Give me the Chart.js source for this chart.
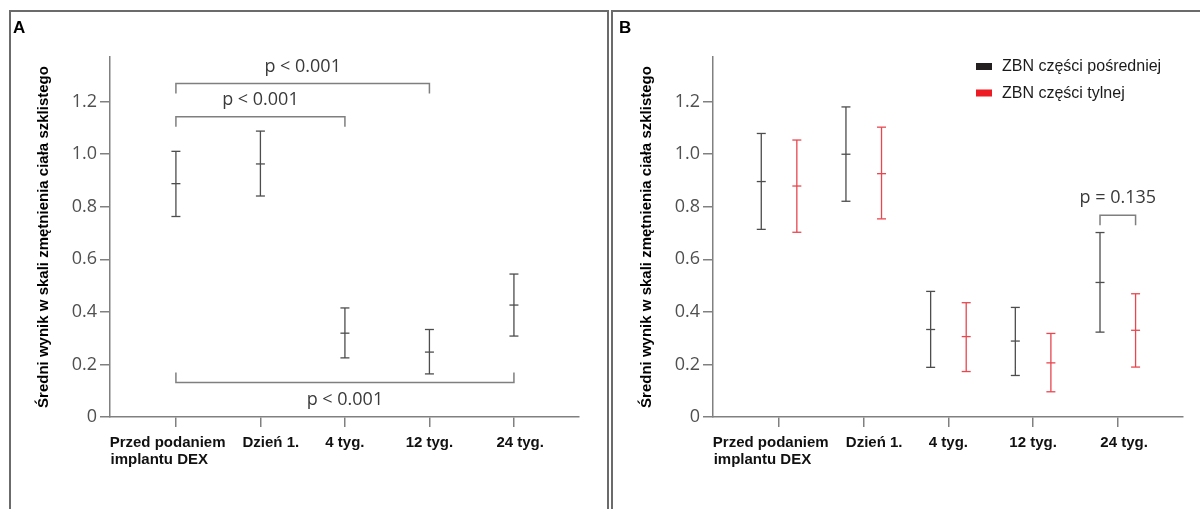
<!DOCTYPE html>
<html>
<head>
<meta charset="utf-8">
<script src="https://cdn.jsdelivr.net/npm/chart.js@4.4.1/dist/chart.umd.min.js"></script>
<style>
body{margin:0;background:#fff;width:1200px;height:509px;overflow:hidden;position:relative;font-family:'Liberation Sans',Arial,sans-serif}
.frame{position:absolute;border:2px solid #6b6b6b;box-sizing:border-box;pointer-events:none}
#frameA{left:9px;top:10px;width:600px;height:520px}
#frameB{left:611px;top:10px;width:600px;height:520px}
.tag{position:absolute;top:19px;font-weight:bold;font-size:17px;line-height:17px;color:#000}
canvas{position:absolute;top:0}
</style>
</head>
<body>
<canvas id="chartA" width="606" height="509" style="left:0"></canvas>
<canvas id="chartB" width="597" height="509" style="left:603px"></canvas>
<div class="frame" id="frameA"></div>
<div class="frame" id="frameB"></div>
<div class="tag" style="left:13px">A</div>
<div class="tag" style="left:619px">B</div>
<script>
// time points on the x axis (spaces nudge the labels off the tick centre)
const categories = [
    ['Przed podaniem    ', 'implantu DEX        '],
    '     Dzień 1.',
    '4 tyg.',
    '12 tyg.',
    '   24 tyg.'
];
const yTicks = [0, 0.2, 0.4, 0.6, 0.8, 1.0, 1.2];
const yTitle = 'Średni wynik w skali zmętnienia ciała szklistego';

// panel A: whole vitreous, mean with CI
const meanA = [0.888, 0.963, 0.319, 0.247, 0.426];
const lowA  = [0.763, 0.841, 0.225, 0.164, 0.308];
const highA = [1.011, 1.088, 0.415, 0.333, 0.544];

// panel B: middle vs posterior part
const seriesNames  = ['ZBN części pośredniej', 'ZBN części tylnej'];
const seriesColors = ['#231f20', '#ed1c24'];
const meanMid = [0.896, 1.000, 0.333, 0.289, 0.512];
const lowMid  = [0.714, 0.821, 0.189, 0.158, 0.323];
const highMid = [1.079, 1.180, 0.478, 0.417, 0.702];
const meanPost = [0.879, 0.926, 0.306, 0.206, 0.330];
const lowPost  = [0.703, 0.754, 0.173, 0.096, 0.190];
const highPost = [1.054, 1.103, 0.435, 0.318, 0.469];

// significance brackets
const pTextA  = ['p < 0.001', 'p < 0.001', 'p < 0.001'];
const pFromA  = [1, 1, 1];
const pToA    = [4, 3, 5];
const pLevelA = [1.269, 1.143, 0.131];
const pBelowA = [false, false, true];
const pTextB  = 'p = 0.135';
const pCatB   = 5;
const pLevelB = 0.768;

const groupShift = 0.21;

function errorBars(mean, low, high, shift) {
    const pts = [];
    mean.forEach((m, i) => {
        const x = i + 1 + shift;
        pts.push({x: x, y: low[i]}, {x: x, y: m}, {x: x, y: high[i]}, {x: x, y: null});
    });
    return pts;
}

function barSet(data, color) {
    return {
        data: data,
        showLine: true,
        spanGaps: false,
        borderColor: color,
        borderWidth: 1.3,
        pointStyle: 'line',
        pointRadius: 4.5,
        pointBorderColor: color,
        pointBorderWidth: 1.3,
        pointHoverRadius: 4.5
    };
}

function bracketPlugin(items) {
    return {
        id: 'brackets',
        afterDatasetsDraw(chart) {
            const {ctx, scales: {x, y}} = chart;
            ctx.save();
            ctx.strokeStyle = '#7f7f7f';
            ctx.lineWidth = 1.5;
            ctx.fillStyle = '#3a3a3a';
            ctx.font = '18px "Open Sans"';
            ctx.textAlign = 'center';
            ctx.textBaseline = 'middle';
            items.forEach(b => {
                const x1 = x.getPixelForValue(b.from);
                const x2 = x.getPixelForValue(b.to);
                const yy = y.getPixelForValue(b.level);
                const dir = b.below ? -1 : 1; // legs point toward the bars
                ctx.beginPath();
                ctx.moveTo(x1, yy + 10 * dir);
                ctx.lineTo(x1, yy);
                ctx.lineTo(x2, yy);
                ctx.lineTo(x2, yy + 10 * dir);
                ctx.stroke();
                ctx.fillText(b.text, (x1 + x2) / 2, yy - 17 * dir);
            });
            ctx.restore();
        }
    };
}

const legendPlugin = {
    id: 'seriesLegend',
    afterDraw(chart) {
        const {ctx, chartArea} = chart;
        ctx.save();
        ctx.font = '16px "Liberation Sans"';
        ctx.textBaseline = 'middle';
        seriesNames.forEach((name, i) => {
            const top = chartArea.top + 6 + i * 26.5;
            ctx.fillStyle = seriesColors[i];
            ctx.fillRect(chartArea.right - 207, top, 16, 7);
            ctx.fillStyle = '#1a1a1a';
            ctx.fillText(name, chartArea.right - 181, top + 4);
        });
        ctx.restore();
    }
};

function makeOptions(padRight) {
    return {
        responsive: false,
        animation: false,
        devicePixelRatio: 1,
        layout: {padding: {left: 0, top: 57, right: padRight, bottom: 0}},
        plugins: {legend: {display: false}, tooltip: {enabled: false}},
        scales: {
            x: {
                type: 'linear',
                min: 0.22,
                max: 5.77,
                afterBuildTicks: s => { s.ticks = categories.map((c, i) => ({value: i + 1})); },
                afterFit: s => { s.height = 92; },
                grid: {drawOnChartArea: false, tickLength: 10, color: '#808080', lineWidth: 1.5},
                border: {color: '#808080', width: 1.5},
                ticks: {
                    maxRotation: 0,
                    autoSkip: false,
                    padding: 8,
                    color: '#111',
                    font: {family: 'Liberation Sans', size: 15, weight: 'bold', lineHeight: 1.1},
                    callback: v => categories[v - 1]
                }
            },
            y: {
                min: 0,
                max: 1.37,
                afterBuildTicks: s => { s.ticks = yTicks.map(v => ({value: v})); },
                afterFit: s => { s.width = 110; },
                grid: {drawOnChartArea: false, tickLength: 10, color: '#808080', lineWidth: 1.5},
                border: {color: '#808080', width: 1.5},
                ticks: {
                    padding: 3,
                    color: '#505050',
                    font: {family: 'Open Sans', size: 18},
                    callback: v => v === 0 ? '0' : v.toFixed(1)
                },
                title: {
                    display: true,
                    text: yTitle,
                    color: '#000',
                    padding: {top: 35, bottom: 0},
                    font: {family: 'Liberation Sans', size: 15, weight: 'bold'}
                }
            }
        }
    };
}

new Chart(document.getElementById('chartA').getContext('2d'), {
    type: 'scatter',
    data: {datasets: [barSet(errorBars(meanA, lowA, highA, 0), '#4d4d4d')]},
    options: makeOptions(27),
    plugins: [bracketPlugin(pTextA.map((t, i) => ({
        text: t, from: pFromA[i], to: pToA[i], level: pLevelA[i], below: pBelowA[i]
    })))]
});

new Chart(document.getElementById('chartB').getContext('2d'), {
    type: 'scatter',
    data: {
        datasets: [
            barSet(errorBars(meanMid, lowMid, highMid, -groupShift), '#4d4d4d'),
            barSet(errorBars(meanPost, lowPost, highPost, groupShift), '#e8474f')
        ]
    },
    options: makeOptions(17),
    plugins: [
        bracketPlugin([{text: pTextB, from: pCatB - groupShift, to: pCatB + groupShift, level: pLevelB, below: false}]),
        legendPlugin
    ]
});
</script>
</body>
</html>
